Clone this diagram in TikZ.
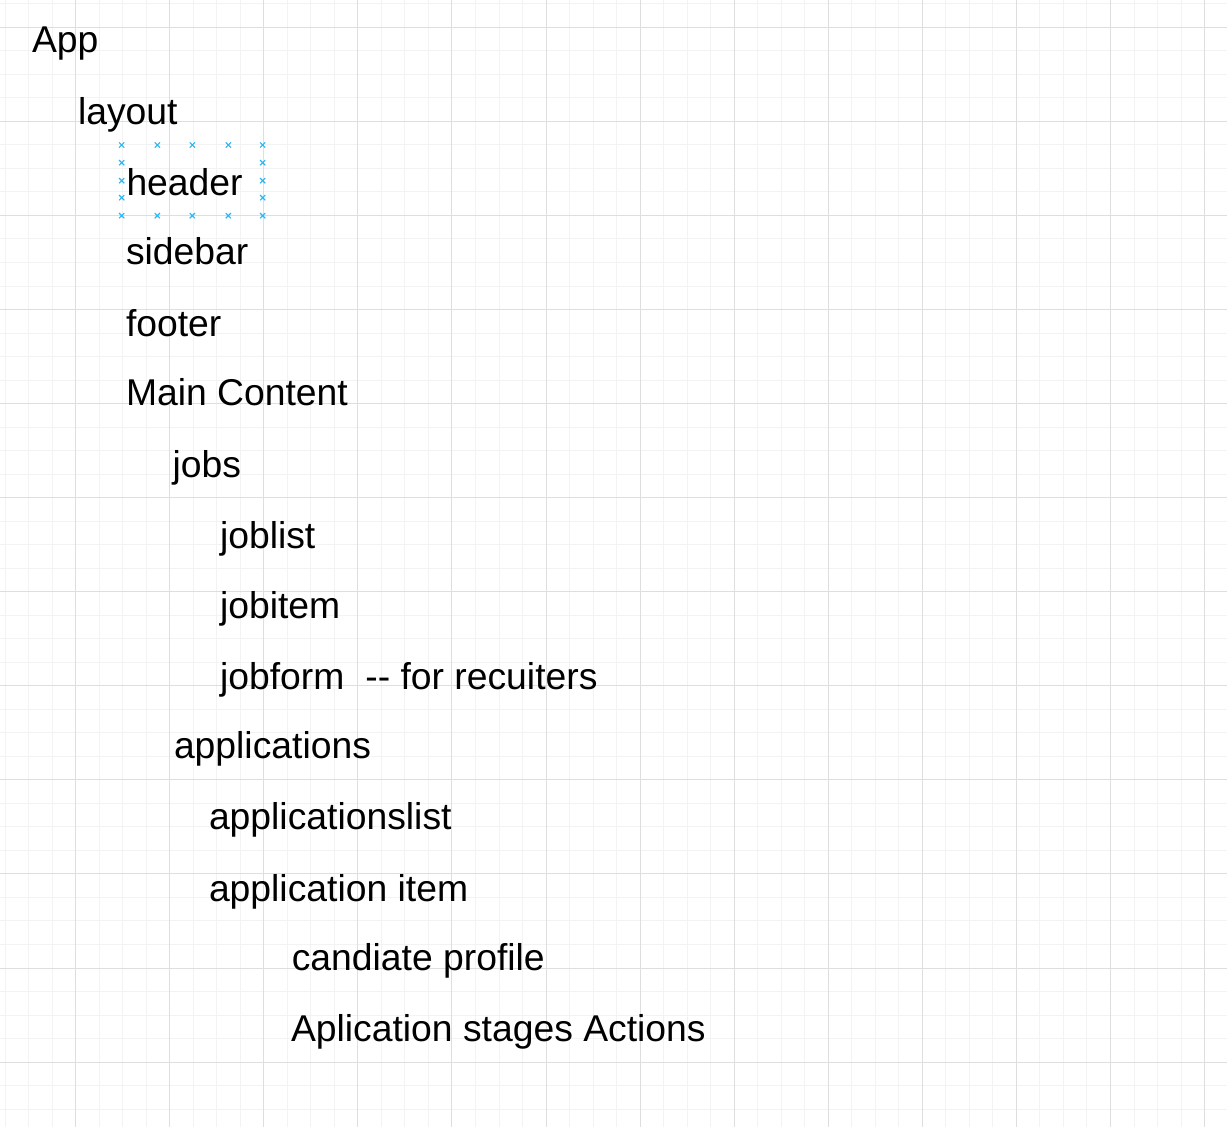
\documentclass[tikz,border=0pt]{standalone}
\usepackage{fontspec}
\setmainfont{Liberation Sans}
\definecolor{minorgrid}{HTML}{F3F3F3}
\definecolor{majorgrid}{HTML}{DEDEDE}
\definecolor{selblue}{HTML}{29B6F2}
\begin{document}
\begin{tikzpicture}[x=1pt,y=-1pt,
  lbl/.style={anchor=base west,inner sep=0pt,outer sep=0pt,font=\fontsize{37.3}{44}\selectfont},
  mk/.style={draw=selblue,line width=1.1pt}]
\useasboundingbox (0,0) rectangle (1227,1127);
\fill[white] (0,0) rectangle (1227,1127);
% minor grid
\foreach \i in {0,...,52} {
  \pgfmathsetmacro{\xx}{5.15+23.518*\i}
  \draw[minorgrid,line width=1pt] (\xx,0) -- (\xx,1127);
}
\foreach \i in {-1,...,48} {
  \pgfmathsetmacro{\yy}{27.3+23.518*\i}
  \draw[minorgrid,line width=1pt] (0,\yy) -- (1227,\yy);
}
% major grid
\foreach \i in {0,...,12} {
  \pgfmathsetmacro{\xx}{75.7+94.07*\i}
  \draw[majorgrid,line width=1pt] (\xx,0) -- (\xx,1127);
}
\foreach \i in {0,...,11} {
  \pgfmathsetmacro{\yy}{27.3+94.07*\i}
  \draw[majorgrid,line width=1pt] (0,\yy) -- (1227,\yy);
}
% texts
\node[lbl] (app) at (32,52) {App};
\node[lbl] (layout) at (78,124.3) {layout};
\node[lbl] (header) at (126.5,195.3) {header};
\node[lbl] (sidebar) at (126,264.5) {sidebar};
\node[lbl] (footer) at (126,336) {footer};
\node[lbl] (main) at (126,405) {Main Content};
\node[lbl] (jobs) at (172.5,477) {jobs};
\node[lbl] (joblist) at (220,548.5) {joblist};
\node[lbl] (jobitem) at (220,618.5) {jobitem};
\node[lbl] (jobform) at (220,689.5) {jobform\hspace{21pt}-{}- for recuiters};
\node[lbl] (applications) at (174,758) {applications};
\node[lbl] (applist) at (209,829.3) {applicationslist};
\node[lbl] (appitem) at (209,901) {application item};
\node[lbl] (profile) at (291.8,970) {candiate profile};
\node[lbl] (stages) at (291,1041) {Aplication stages Actions};
% selection markers around header
\foreach \mx/\my in {121.7/145,157.3/145,192.3/145,228.3/145,262.7/145,
                     121.7/215.7,157.3/215.7,192.3/215.7,228.3/215.7,262.7/215.7,
                     121.7/162.7,121.7/180.7,121.7/197.7,
                     262.7/162.7,262.7/180.7,262.7/197.7} {
  \draw[mk] (\mx-2.6,\my-2.6) -- (\mx+2.6,\my+2.6) (\mx-2.6,\my+2.6) -- (\mx+2.6,\my-2.6);
}
\end{tikzpicture}
\end{document}
